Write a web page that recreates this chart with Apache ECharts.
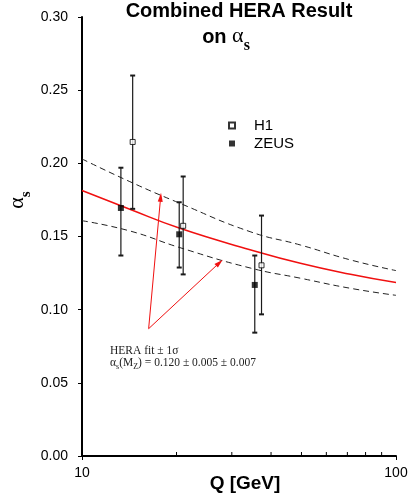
<!DOCTYPE html>
<html>
<head>
<meta charset="utf-8">
<title>HERA alpha_s</title>
<script src="https://cdn.jsdelivr.net/npm/echarts@6/dist/echarts.min.js"></script>
<style>html,body{margin:0;padding:0;background:#fff;}</style>
</head>
<body>
<div id="main" style="width:409px;height:496px;"></div>
<script type="text/javascript">
// values: Q [GeV], alpha_s, low and high end of the error bar
var zeusQ = [13.3, 20.4, 35.5];
var zeusVal = [0.1695, 0.1515, 0.1169];
var zeusLo = [0.137, 0.1288, 0.0843];
var zeusHi = [0.197, 0.1734, 0.137];

var h1Q = [14.5, 21.0, 37.3];
var h1Val = [0.2146, 0.1573, 0.1303];
var h1Lo = [0.1689, 0.1241, 0.0968];
var h1Hi = [0.260, 0.191, 0.1643];

// HERA fit and the +-1 sigma band around it
var fitQ = [10, 14.2, 20.5, 34.3, 49.6, 71.6, 100];
var fitVal = [0.1814, 0.1686, 0.1556, 0.1410, 0.1317, 0.1242, 0.1185];
var fitUp = [0.2030, 0.1875, 0.1727, 0.1533, 0.1442, 0.1340, 0.1267];
var fitDown = [0.1608, 0.1538, 0.1424, 0.1285, 0.1215, 0.1146, 0.1098];

// red arrows from the caption to the band
var arrowFrom = [16.3, 0.087];
var arrowTo = [[17.8, 0.1768], [27.4, 0.1321]];

// axes
var xMinorTicks = [20, 30, 40, 50, 60, 70, 80, 90];
var yMin = 0, yMax = 0.30, yStep = 0.05;

function zip(a, b, c) {
    return a.map(function (v, i) { return c ? [v, b[i], c[i]] : [v, b[i]]; });
}

function errorBar(params, api) {
    var x = api.value(0);
    var lo = api.coord([x, api.value(1)]);
    var hi = api.coord([x, api.value(2)]);
    var w = 2.5;
    var bar = {stroke: '#1a1a1a', lineWidth: 1.2};
    var cap = {stroke: '#1a1a1a', lineWidth: 2};
    return {
        type: 'group',
        children: [
            {type: 'line', shape: {x1: lo[0], y1: lo[1], x2: hi[0], y2: hi[1]}, style: bar},
            {type: 'line', shape: {x1: lo[0] - w, y1: lo[1], x2: lo[0] + w, y2: lo[1]}, style: cap},
            {type: 'line', shape: {x1: hi[0] - w, y1: hi[1], x2: hi[0] + w, y2: hi[1]}, style: cap}
        ]
    };
}

function minorTick(params, api) {
    var p = api.coord([api.value(0), yMin]);
    return {
        type: 'line',
        shape: {x1: p[0], y1: p[1], x2: p[0], y2: p[1] - 4},
        style: {stroke: '#000', lineWidth: 1}
    };
}

var myChart = echarts.init(document.getElementById('main'));

myChart.setOption({
    animation: false,
    backgroundColor: '#fff',
    textStyle: {fontFamily: 'Liberation Sans'},
    grid: {left: 82, right: 13, top: 17, bottom: 40, outerBoundsMode: 'none'},
    legend: {
        data: ['H1', 'ZEUS'],
        orient: 'vertical',
        left: 223,
        top: 113,
        itemWidth: 6,
        itemHeight: 6,
        itemGap: 3,
        selectedMode: false,
        textStyle: {fontSize: 15, color: '#000', padding: [0, 0, 0, 14]}
    },
    xAxis: {
        type: 'log',
        logBase: 10,
        min: 10,
        max: 100,
        axisLine: {lineStyle: {color: '#000', width: 2}},
        axisTick: {length: 4, lineStyle: {color: '#000', width: 1}},
        axisLabel: {fontSize: 14, color: '#000', margin: 10},
        splitLine: {show: false},
        name: 'Q [GeV]',
        nameLocation: 'middle',
        nameGap: 18,
        nameMoveOverlap: false,
        nameTextStyle: {fontSize: 19, fontWeight: 'bold', color: '#000', verticalAlign: 'top', padding: [0, 0, 0, 12]}
    },
    yAxis: {
        type: 'value',
        min: yMin,
        max: yMax,
        interval: yStep,
        axisLine: {lineStyle: {color: '#000', width: 2}},
        axisTick: {length: 4, lineStyle: {color: '#000', width: 1}},
        axisLabel: {fontSize: 14, color: '#000', margin: 14, formatter: function (v) { return v.toFixed(2); }},
        splitLine: {show: false}
    },
    series: [
        {
            name: 'fit',
            type: 'line',
            data: zip(fitQ, fitVal),
            smooth: true,
            symbol: 'none',
            silent: true,
            lineStyle: {color: '#f01010', width: 1.5},
            z: 3,
            markLine: {
                silent: true,
                symbol: ['none', 'triangle'],
                symbolSize: [5, 9],
                label: {show: false},
                emphasis: {disabled: true},
                lineStyle: {color: '#f01010', width: 1, type: 'solid'},
                data: arrowTo.map(function (t) { return [{coord: arrowFrom}, {coord: t}]; })
            }
        },
        {
            name: 'fit up',
            type: 'line',
            data: zip(fitQ, fitUp),
            smooth: true,
            symbol: 'none',
            silent: true,
            lineStyle: {color: '#222', width: 1, type: [6, 4]},
            z: 2
        },
        {
            name: 'fit down',
            type: 'line',
            data: zip(fitQ, fitDown),
            smooth: true,
            symbol: 'none',
            silent: true,
            lineStyle: {color: '#222', width: 1, type: [6, 4]},
            z: 2
        },
        {
            name: 'ZEUS err',
            type: 'custom',
            renderItem: errorBar,
            data: zip(zeusQ, zeusLo, zeusHi),
            encode: {x: 0, y: [1, 2]},
            silent: true,
            z: 4
        },
        {
            name: 'H1 err',
            type: 'custom',
            renderItem: errorBar,
            data: zip(h1Q, h1Lo, h1Hi),
            encode: {x: 0, y: [1, 2]},
            silent: true,
            z: 4
        },
        {
            name: 'ZEUS',
            type: 'scatter',
            data: zip(zeusQ, zeusVal),
            symbol: 'rect',
            symbolSize: 6,
            itemStyle: {color: '#000'},
            silent: true,
            z: 5
        },
        {
            name: 'H1',
            type: 'scatter',
            data: zip(h1Q, h1Val),
            symbol: 'rect',
            symbolSize: 5,
            itemStyle: {color: '#fff', borderColor: '#000', borderWidth: 1},
            silent: true,
            z: 5
        },
        {
            name: 'minor ticks',
            type: 'custom',
            renderItem: minorTick,
            data: xMinorTicks.map(function (q) { return [q, yMin]; }),
            encode: {x: 0, y: 1},
            clip: false,
            silent: true,
            z: 6
        }
    ],
    graphic: [
        {
            type: 'text', x: 239, y: 11, silent: true,
            style: {text: 'Combined HERA Result', fontSize: 20, fontWeight: 'bold', fontFamily: 'Liberation Sans', fill: '#000', align: 'center', verticalAlign: 'middle'}
        },
        {
            type: 'text', x: 226, y: 25, silent: true,
            style: {
                text: '{o|on }{a|α}{s|s}', align: 'center', verticalAlign: 'top', fill: '#000',
                rich: {
                    o: {fontSize: 20, fontWeight: 'bold', fontFamily: 'Liberation Sans', verticalAlign: 'top', padding: [2, 0, 0, 0]},
                    a: {fontSize: 22, fontFamily: 'Liberation Serif', verticalAlign: 'top'},
                    s: {fontSize: 16, fontWeight: 'bold', fontFamily: 'Liberation Serif', verticalAlign: 'top', padding: [13, 0, 0, 0]}
                }
            }
        },
        {
            type: 'text', x: 20, y: 200, rotation: Math.PI / 2, silent: true,
            style: {
                text: '{a|α}{s|s}', align: 'center', verticalAlign: 'middle', fill: '#000',
                rich: {
                    a: {fontSize: 22, fontFamily: 'Liberation Serif', verticalAlign: 'top'},
                    s: {fontSize: 15, fontWeight: 'bold', fontFamily: 'Liberation Serif', verticalAlign: 'top', padding: [12, 0, 0, 0]}
                }
            }
        },
        {
            type: 'text', x: 110, y: 351, silent: true,
            style: {text: 'HERA fit ± 1σ', fontSize: 11.5, fontFamily: 'Liberation Serif', fill: '#222', align: 'left', verticalAlign: 'middle'}
        },
        {
            type: 'text', x: 110, y: 357, silent: true,
            style: {
                text: '{t|α}{u|s}{t|(M}{u|Z}{t|) = 0.120 ± 0.005 ± 0.007}', align: 'left', verticalAlign: 'top', fill: '#222',
                rich: {
                    t: {fontSize: 11.5, fontFamily: 'Liberation Serif', verticalAlign: 'top'},
                    u: {fontSize: 8, fontFamily: 'Liberation Serif', verticalAlign: 'top', padding: [6, 0, 0, 0]}
                }
            }
        }
    ]
});
</script>
</body>
</html>
